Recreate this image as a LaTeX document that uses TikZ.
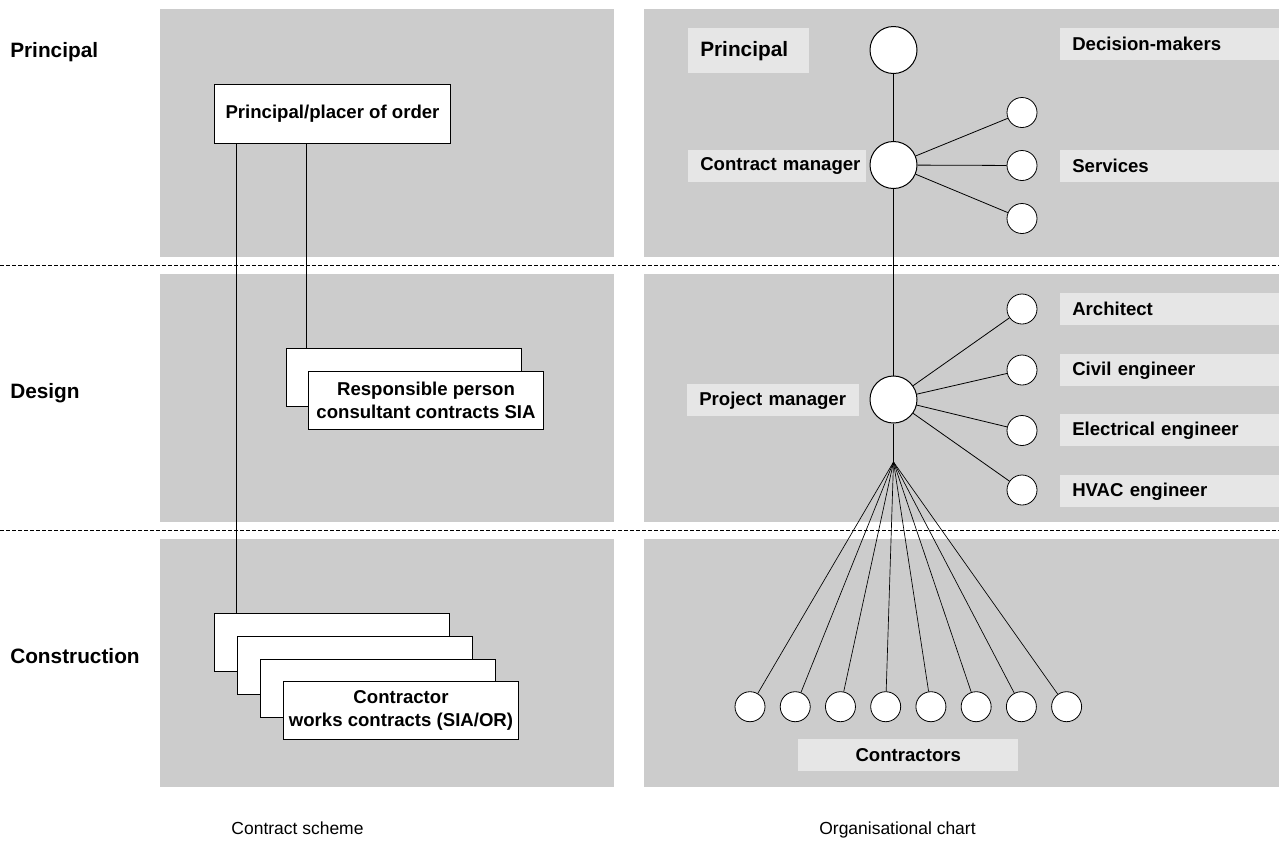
\documentclass[tikz,border=0pt]{standalone}
\usepackage{fontspec}
\setmainfont{Liberation Sans}
\begin{document}
\begin{tikzpicture}[x=0.75pt,y=-0.75pt,
  cbox/.style={draw=black,line width=0.75pt,fill=white,anchor=north west,inner sep=0pt,
    minimum width=176.25pt,minimum height=43.5pt,align=center,
    font=\fontsize{13.95pt}{16.8pt}\selectfont\bfseries},
  lbl/.style={fill=lblgray,anchor=north west,inner xsep=9pt,inner ysep=0pt,align=left,
    font=\fontsize{13.95pt}{16.8pt}\selectfont\bfseries},
  rowlbl/.style={anchor=base west,inner sep=0pt,font=\fontsize{15.6pt}{18pt}\selectfont\bfseries},
  caption/.style={anchor=base,inner sep=0pt,font=\fontsize{13.1pt}{15pt}\selectfont},
  bigc/.style={circle,draw=black,line width=0.75pt,fill=white,minimum size=35.25pt,inner sep=0pt},
  smc/.style={circle,draw=black,line width=0.6pt,fill=white,minimum size=22.5pt,inner sep=0pt},
  conn/.style={draw=black,line width=0.75pt},
  sep/.style={draw=black,line width=0.75pt,dash pattern=on 3pt off 1.5pt}
]
\definecolor{panelgray}{HTML}{CCCCCC}
\definecolor{lblgray}{HTML}{E6E6E6}
\useasboundingbox (0,0) rectangle (1279,847);

% panels
\fill[panelgray] (160,9) rectangle (614,257);
\fill[panelgray] (160,274) rectangle (614,522);
\fill[panelgray] (160,539) rectangle (614,787);
\fill[panelgray] (644,9) rectangle (1279,257);
\fill[panelgray] (644,274) rectangle (1279,522);
\fill[panelgray] (644,539) rectangle (1279,787);

% separators
\draw[sep] (0,265.5) -- (1279,265.5);
\draw[sep] (0,530) -- (1279,530);

% row labels
\node[rowlbl] (rp) at (10,57) {Principal};
\node[rowlbl] (rd) at (10,398) {Design};
\node[rowlbl] (rc) at (10,663) {Construction};

% captions
\node[caption] (cap1) at (297.5,834) {Contract scheme};
\node[caption] (cap2) at (897.5,834) {Organisational chart};

% ---------- contract scheme ----------
\node[cbox,minimum width=177pt,minimum height=44.25pt] (ppo) at (214,84) {Principal/placer of order};

\node[cbox] (rb) at (286,348) {};
\node[cbox] (rf) at (308,371) {Responsible person\\consultant contracts SIA};

\node[cbox] (cb1) at (214,613) {};
\node[cbox] (cb2) at (237,636) {};
\node[cbox] (cb3) at (260,659) {};
\node[cbox] (cb4) at (283,681) {Contractor\\works contracts (SIA/OR)};

\draw[conn] ([shift={(22,0)}]ppo.south west) coordinate (la) -- (la |- cb1.north);
\draw[conn] ([shift={(92,0)}]ppo.south west) coordinate (lb) -- (lb |- rb.north);

% ---------- organisational chart ----------
\node[lbl,font=\fontsize{15.6pt}{18pt}\selectfont\bfseries,text width=72.75pt,minimum height=33.75pt] (lp) at (688,28) {Principal};
\node[lbl,text width=146.25pt,minimum height=24pt] (ldm) at (1060,28) {Decision-makers};
\node[lbl,text width=115.5pt,minimum height=24pt] (lcm) at (688,150) {\mbox{Contract manager}};
\node[lbl,text width=146.25pt,minimum height=24pt] (lsv) at (1060,150) {Services};
\node[lbl,text width=111pt,minimum height=24pt] (lpm) at (687,384) {\mbox{Project manager}};
\node[lbl,text width=146.25pt,minimum height=24pt] (lar) at (1060,293) {Architect};
\node[lbl,text width=146.25pt,minimum height=24pt] (lce) at (1060,354) {Civil engineer};
\node[lbl,text width=146.25pt,minimum height=24pt] (lee) at (1060,414) {Electrical engineer};
\node[lbl,text width=146.25pt,minimum height=24pt] (lhv) at (1060,475) {HVAC engineer};
\node[lbl,align=center,inner xsep=0pt,text width=165pt,minimum height=24pt] (lct) at (798,739) {Contractors};

\node[bigc] (pc) at (893.5,50) {};
\node[bigc] (cm) at (893.5,165) {};
\node[bigc] (pm) at (893.5,399.5) {};

\node[smc] (s1) at (1022,112.5) {};
\node[smc] (s2) at (1022,165.5) {};
\node[smc] (s3) at (1022,218.5) {};

\node[smc] (d1) at (1022,309) {};
\node[smc] (d2) at (1022,370) {};
\node[smc] (d3) at (1022,430.5) {};
\node[smc] (d4) at (1022,490) {};

\coordinate (fan) at (893.5,462);

\foreach \i in {1,...,8} {
  \node[smc] (k\i) at ({750+45.23*(\i-1)},706.7) {};
}

\draw[conn] (pc) -- (cm);
\draw[conn] (cm) -- (pm);
\draw[conn] (pm) -- (fan);
\foreach \s in {s1,s2,s3} { \draw[line width=0.6pt] (cm) -- (\s); }
\foreach \s in {d1,d2,d3,d4} { \draw[line width=0.6pt] (pm) -- (\s); }
\foreach \i in {1,...,8} { \draw[line width=0.5pt] (fan) -- (k\i); }

\end{tikzpicture}
\end{document}
